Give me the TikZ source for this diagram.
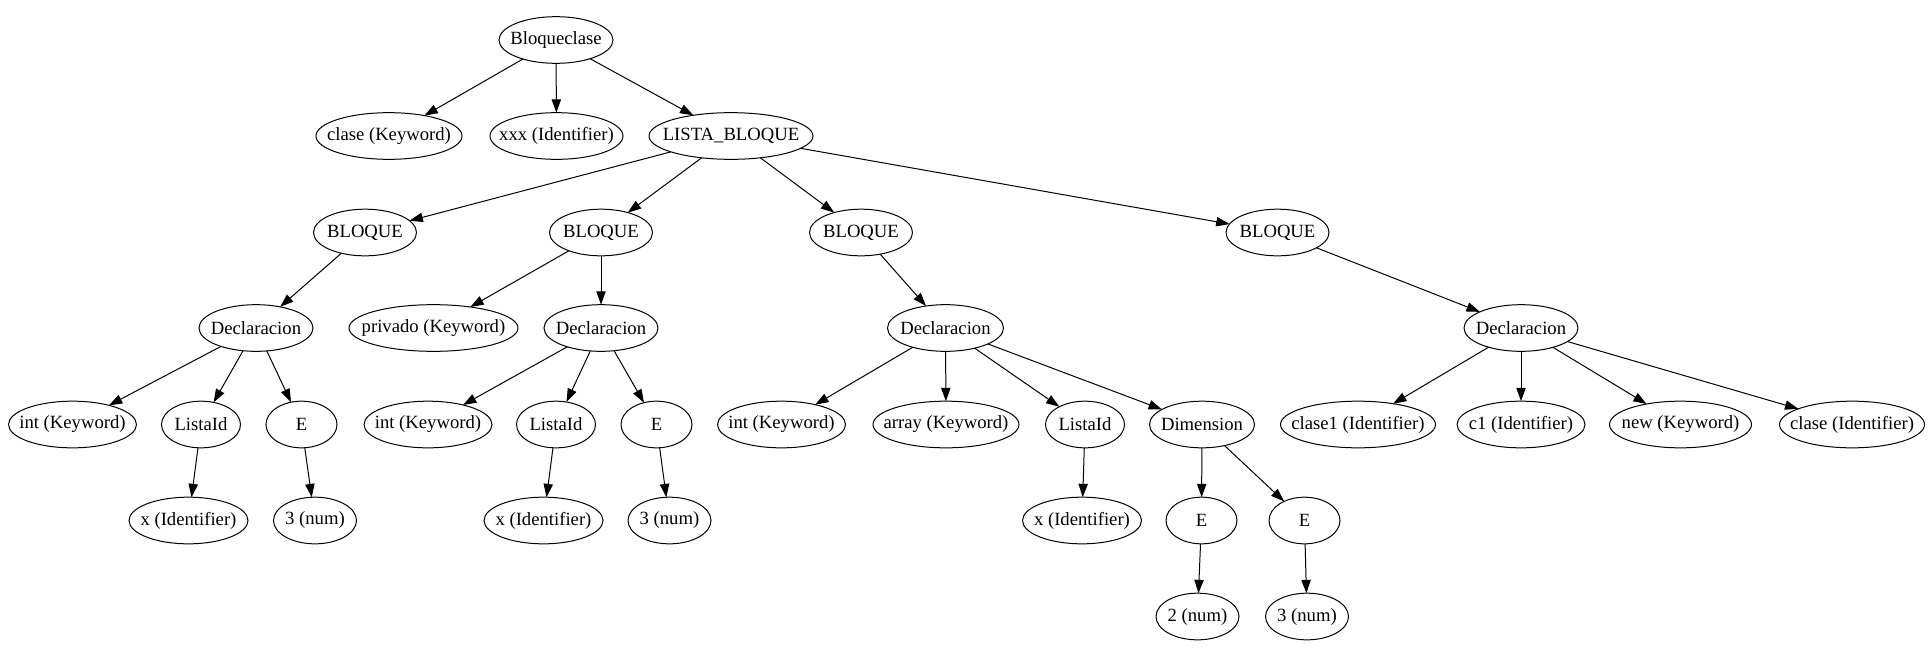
\documentclass[tikz,border=0pt]{standalone}
\usepackage{fontspec}
\setmainfont{Liberation Serif}
\usetikzlibrary{shapes.geometric,arrows.meta}
\tikzset{
  gv/.style={draw, ellipse, line width=0.75pt, inner sep=0pt, outer sep=0pt,
    minimum height=35pt, minimum width=#1*0.75pt,
    font=\fontsize{14pt}{16pt}\selectfont},
  arr/.style={line width=0.75pt, -{Triangle[length=10pt,width=7pt]}}
}
\newcommand{\lbl}[1]{\makebox[0pt]{#1}}
\begin{document}
\begin{tikzpicture}[x=0.75pt,y=-0.75pt]
\useasboundingbox (0,0) rectangle (1929,657);
% row 0
\node[gv=114] (root) at (556,40) {\lbl{Bloqueclase}};
% row 1
\node[gv=146] (claseK) at (389,136) {\lbl{clase (Keyword)}};
\node[gv=133] (xxx) at (556.5,136) {\lbl{xxx (Identifier)}};
\node[gv=164] (lista) at (731,136) {\lbl{LISTA\_BLOQUE}};
% row 2
\node[gv=103] (b1) at (365,232.5) {\lbl{BLOQUE}};
\node[gv=103] (b2) at (601,232.5) {\lbl{BLOQUE}};
\node[gv=103] (b3) at (861,232.5) {\lbl{BLOQUE}};
\node[gv=103] (b4) at (1277.5,232.5) {\lbl{BLOQUE}};
% row 3
\node[gv=114] (d1) at (256,328) {\lbl{Declaracion}};
\node[gv=169] (priv) at (433.5,328) {\lbl{privado (Keyword)}};
\node[gv=114] (d2) at (601,328) {\lbl{Declaracion}};
\node[gv=116] (d3) at (945.5,328) {\lbl{Declaracion}};
\node[gv=114] (d4) at (1521,328) {\lbl{Declaracion}};
% row 4
\node[gv=128] (int1) at (72.5,424.5) {\lbl{int (Keyword)}};
\node[gv=79] (li1) at (201,424.5) {\lbl{ListaId}};
\node[gv=71] (e1) at (301.5,424.5) {\lbl{E}};
\node[gv=128] (int2) at (428,424.5) {\lbl{int (Keyword)}};
\node[gv=79] (li2) at (556,424.5) {\lbl{ListaId}};
\node[gv=71] (e2) at (656.5,424.5) {\lbl{E}};
\node[gv=128] (int3) at (781.5,424.5) {\lbl{int (Keyword)}};
\node[gv=146] (arr) at (946,424.5) {\lbl{array (Keyword)}};
\node[gv=79] (li3) at (1085,424.5) {\lbl{ListaId}};
\node[gv=105] (dim) at (1202,424.5) {\lbl{Dimension}};
\node[gv=155] (c1id) at (1358,424.5) {\lbl{clase1 (Identifier)}};
\node[gv=128] (c1) at (1521,424.5) {\lbl{c1 (Identifier)}};
\node[gv=142] (newk) at (1680.5,424.5) {\lbl{new (Keyword)}};
\node[gv=145] (claseI) at (1852,424.5) {\lbl{clase (Identifier)}};
% row 5
\node[gv=119] (x1) at (188.5,520.5) {\lbl{x (Identifier)}};
\node[gv=83] (n1) at (315,520.5) {\lbl{3 (num)}};
\node[gv=119] (x2) at (543.5,520.5) {\lbl{x (Identifier)}};
\node[gv=83] (n2) at (669.5,520.5) {\lbl{3 (num)}};
\node[gv=119] (x3) at (1082,520.5) {\lbl{x (Identifier)}};
\node[gv=71] (e3) at (1201.5,520.5) {\lbl{E}};
\node[gv=71] (e4) at (1304.5,520.5) {\lbl{E}};
% row 6
\node[gv=83] (n3) at (1197.5,616.5) {\lbl{2 (num)}};
\node[gv=83] (n4) at (1307,616.5) {\lbl{3 (num)}};
% edges
\draw[arr] (root) -- (claseK);
\draw[arr] (root) -- (xxx);
\draw[arr] (root) -- (lista);
\draw[arr] (lista) -- (b1);
\draw[arr] (lista) -- (b2);
\draw[arr] (lista) -- (b3);
\draw[arr] (lista) -- (b4);
\draw[arr] (b1) -- (d1);
\draw[arr] (b2) -- (priv);
\draw[arr] (b2) -- (d2);
\draw[arr] (b3) -- (d3);
\draw[arr] (b4) -- (d4);
\draw[arr] (d1) -- (int1);
\draw[arr] (d1) -- (li1);
\draw[arr] (d1) -- (e1);
\draw[arr] (d2) -- (int2);
\draw[arr] (d2) -- (li2);
\draw[arr] (d2) -- (e2);
\draw[arr] (d3) -- (int3);
\draw[arr] (d3) -- (arr);
\draw[arr] (d3) -- (li3);
\draw[arr] (d3) -- (dim);
\draw[arr] (d4) -- (c1id);
\draw[arr] (d4) -- (c1);
\draw[arr] (d4) -- (newk);
\draw[arr] (d4) -- (claseI);
\draw[arr] (li1) -- (x1);
\draw[arr] (e1) -- (n1);
\draw[arr] (li2) -- (x2);
\draw[arr] (e2) -- (n2);
\draw[arr] (li3) -- (x3);
\draw[arr] (dim) -- (e3);
\draw[arr] (dim) -- (e4);
\draw[arr] (e3) -- (n3);
\draw[arr] (e4) -- (n4);
\end{tikzpicture}
\end{document}
